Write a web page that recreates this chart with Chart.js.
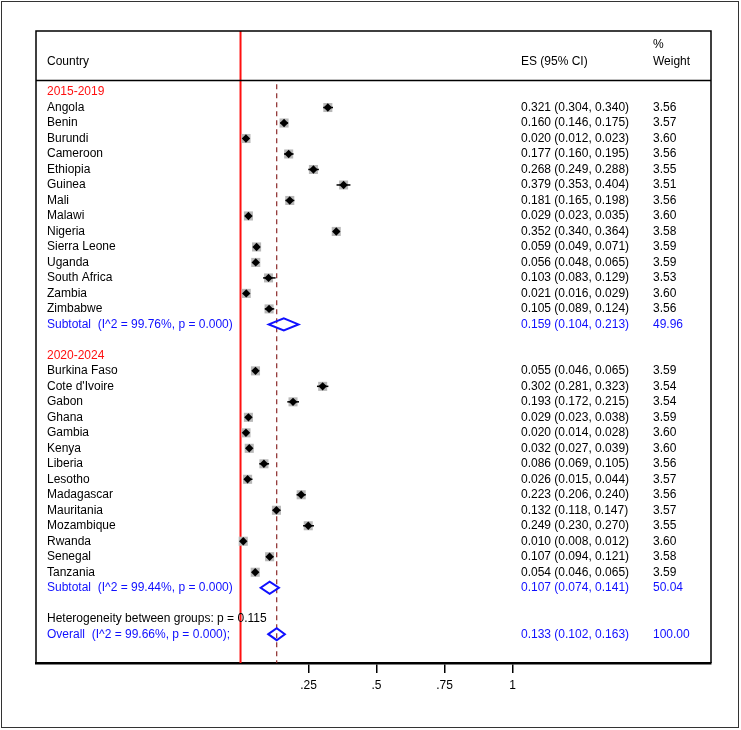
<!DOCTYPE html>
<html>
<head>
<meta charset="utf-8">
<script src="https://cdn.jsdelivr.net/npm/chart.js@4/dist/chart.umd.min.js"></script>
<style>
    html, body { margin: 0; padding: 0; background: #fff; }
    #fp { display: block; }
</style>
</head>
<body>
<canvas id="fp" width="741" height="730"></canvas>
<script>
// 2015-2019 group
const countries1 = ['Angola', 'Benin', 'Burundi', 'Cameroon', 'Ethiopia', 'Guinea', 'Mali', 'Malawi', 'Nigeria', 'Sierra Leone', 'Uganda', 'South Africa', 'Zambia', 'Zimbabwe'];
const es1 = [0.321, 0.160, 0.020, 0.177, 0.268, 0.379, 0.181, 0.029, 0.352, 0.059, 0.056, 0.103, 0.021, 0.105];
const lo1 = [0.304, 0.146, 0.012, 0.160, 0.249, 0.353, 0.165, 0.023, 0.340, 0.049, 0.048, 0.083, 0.016, 0.089];
const hi1 = [0.340, 0.175, 0.023, 0.195, 0.288, 0.404, 0.198, 0.035, 0.364, 0.071, 0.065, 0.129, 0.029, 0.124];
const w1 = [3.56, 3.57, 3.60, 3.56, 3.55, 3.51, 3.56, 3.60, 3.58, 3.59, 3.59, 3.53, 3.60, 3.56];

// 2020-2024 group
const countries2 = ['Burkina Faso', "Cote d'Ivoire", 'Gabon', 'Ghana', 'Gambia', 'Kenya', 'Liberia', 'Lesotho', 'Madagascar', 'Mauritania', 'Mozambique', 'Rwanda', 'Senegal', 'Tanzania'];
const es2 = [0.055, 0.302, 0.193, 0.029, 0.020, 0.032, 0.086, 0.026, 0.223, 0.132, 0.249, 0.010, 0.107, 0.054];
const lo2 = [0.046, 0.281, 0.172, 0.023, 0.014, 0.027, 0.069, 0.015, 0.206, 0.118, 0.230, 0.008, 0.094, 0.046];
const hi2 = [0.065, 0.323, 0.215, 0.038, 0.028, 0.039, 0.105, 0.044, 0.240, 0.147, 0.270, 0.012, 0.121, 0.065];
const w2 = [3.59, 3.54, 3.54, 3.59, 3.60, 3.60, 3.56, 3.57, 3.56, 3.57, 3.55, 3.60, 3.58, 3.59];

// pooled estimates: [es, lo, hi, weight, I^2, p]
const subtotal1 = [0.159, 0.104, 0.213, 49.96, '99.76%', '0.000'];
const subtotal2 = [0.107, 0.074, 0.141, 50.04, '99.44%', '0.000'];
const overall = [0.133, 0.102, 0.163, 100.00, '99.66%', '0.000'];
const hetP = '0.115';

const groupLabels = ['2015-2019', '2020-2024'];
const xTicks = [0.25, 0.5, 0.75, 1];

const BLUE = '#1010ff';
const RED = '#ff1010';
const FONT = '12px "Liberation Sans", Arial, sans-serif';

// row layout (row index = y value)
const rows = [];
let k = 0;
function addGroup(label, names, es, lo, hi, w, sub) {
    rows.push({ k: k++, kind: 'group', text: label });
    names.forEach((n, i) => rows.push({ k: k++, kind: 'study', text: n, es: es[i], lo: lo[i], hi: hi[i], w: w[i] }));
    rows.push({ k: k++, kind: 'pooled', text: `Subtotal  (I^2 = ${sub[4]}, p = ${sub[5]})`, es: sub[0], lo: sub[1], hi: sub[2], w: sub[3] });
    k++;
}
addGroup(groupLabels[0], countries1, es1, lo1, hi1, w1, subtotal1);
addGroup(groupLabels[1], countries2, es2, lo2, hi2, w2, subtotal2);
rows.push({ k: k++, kind: 'note', text: `Heterogeneity between groups: p = ${hetP}` });
rows.push({ k: k++, kind: 'pooled', text: `Overall  (I^2 = ${overall[4]}, p = ${overall[5]});`, es: overall[0], lo: overall[1], hi: overall[2], w: overall[3] });

const studies = rows.filter((r) => r.kind === 'study');
const pooled = rows.filter((r) => r.kind === 'pooled');
const fmt = (v) => v.toFixed(3);

const forestPlugin = {
    id: 'forest',
    beforeDatasetsDraw(chart) {
        const { ctx, chartArea: a, scales: { x, y } } = chart;
        ctx.save();
        // overall dashed line
        const xo = x.getPixelForValue(overall[0]);
        ctx.strokeStyle = '#8b2a2a';
        ctx.lineWidth = 1.2;
        ctx.setLineDash([5, 4]);
        ctx.beginPath();
        ctx.moveTo(xo, y.getPixelForValue(-0.5));
        ctx.lineTo(xo, a.bottom);
        ctx.stroke();
        ctx.setLineDash([]);
        // null line
        const x0 = x.getPixelForValue(0);
        ctx.strokeStyle = RED;
        ctx.lineWidth = 2;
        ctx.beginPath();
        ctx.moveTo(x0, a.top);
        ctx.lineTo(x0, a.bottom);
        ctx.stroke();
        ctx.restore();
    },
    afterDatasetDraw(chart, args) {
        if (args.index !== 0) return;
        const { ctx, scales: { x, y } } = chart;
        ctx.save();
        ctx.strokeStyle = '#000';
        ctx.lineWidth = 1.5;
        studies.forEach((r) => {
            const py = y.getPixelForValue(r.k);
            ctx.beginPath();
            ctx.moveTo(x.getPixelForValue(r.lo), py);
            ctx.lineTo(x.getPixelForValue(r.hi), py);
            ctx.stroke();
        });
        ctx.restore();
    },
    afterDraw(chart) {
        const { ctx, chartArea: a, scales: { x, y } } = chart;
        ctx.save();
        // pooled diamonds
        ctx.strokeStyle = BLUE;
        ctx.lineWidth = 2;
        pooled.forEach((r) => {
            const py = y.getPixelForValue(r.k);
            const h = 6;
            ctx.beginPath();
            ctx.moveTo(x.getPixelForValue(r.lo), py);
            ctx.lineTo(x.getPixelForValue(r.es), py - h);
            ctx.lineTo(x.getPixelForValue(r.hi), py);
            ctx.lineTo(x.getPixelForValue(r.es), py + h);
            ctx.closePath();
            ctx.stroke();
        });

        // frames
        ctx.strokeStyle = '#000';
        ctx.lineWidth = 1.5;
        ctx.beginPath();
        ctx.moveTo(a.left, a.bottom);
        ctx.lineTo(a.left, a.top);
        ctx.lineTo(a.right, a.top);
        ctx.lineTo(a.right, a.bottom);
        ctx.stroke();
        const ySep = Math.round(y.getPixelForValue(-0.775)) + 0.5;
        ctx.beginPath();
        ctx.moveTo(a.left, ySep);
        ctx.lineTo(a.right, ySep);
        ctx.stroke();
        ctx.strokeStyle = '#333';
        ctx.lineWidth = 1;
        ctx.strokeRect(1.5, 1.5, chart.width - 4, chart.height - 4);

        // text columns
        const cx = a.left + 11, ex = a.left + 485, wx = a.left + 617;
        ctx.font = FONT;
        ctx.textBaseline = 'middle';
        ctx.textAlign = 'left';
        ctx.fillStyle = '#000';
        const yh = y.getPixelForValue(-1.94);
        ctx.fillText('Country', cx, yh);
        ctx.fillText('ES (95% CI)', ex, yh);
        ctx.fillText('%', wx, y.getPixelForValue(-3.08));
        ctx.fillText('Weight', wx, yh);
        rows.forEach((r) => {
            const py = y.getPixelForValue(r.k);
            ctx.fillStyle = r.kind === 'group' ? RED : r.kind === 'pooled' ? BLUE : '#000';
            ctx.fillText(r.text, cx, py);
            if (r.es !== undefined) {
                ctx.fillText(`${fmt(r.es)} (${fmt(r.lo)}, ${fmt(r.hi)})`, ex, py);
                ctx.fillText(r.w.toFixed(2), wx, py);
            }
        });
        ctx.restore();
    },
};

new Chart(document.getElementById('fp'), {
    type: 'scatter',
    data: {
        datasets: [
            {
                label: 'weight',
                data: studies.map((r) => ({ x: r.es, y: r.k })),
                pointStyle: 'rect',
                pointRadius: studies.map((r) => 6.4 * Math.sqrt(r.w / 3.56)),
                backgroundColor: '#b8b8b8',
                borderWidth: 0,
                order: 2,
            },
            {
                label: 'es',
                data: studies.map((r) => ({ x: r.es, y: r.k })),
                pointStyle: 'rectRot',
                pointRadius: 4.2,
                backgroundColor: '#000',
                borderWidth: 0,
                order: 1,
            },
        ],
    },
    options: {
        responsive: false,
        animation: false,
        devicePixelRatio: 1,
        layout: { padding: { left: 36, right: 30, top: 31, bottom: 37 } },
        plugins: { legend: { display: false }, tooltip: { enabled: false } },
        scales: {
            x: {
                type: 'linear',
                min: -0.752,
                max: 1.7298,
                afterBuildTicks: (s) => { s.ticks = xTicks.map((v) => ({ value: v })); },
                afterFit: (s) => { s.height = 30; },
                border: { display: true, color: '#000', width: 2.5 },
                grid: { drawOnChartArea: false, drawTicks: true, tickLength: 10, color: '#000', lineWidth: 1.5 },
                ticks: {
                    padding: 5,
                    color: '#000',
                    font: { family: '"Liberation Sans", Arial, sans-serif', size: 12 },
                    callback: (v) => String(v).replace(/^0\./, '.'),
                },
            },
            y: {
                type: 'linear',
                display: false,
                reverse: true,
                min: -3.94,
                max: 36.86,
            },
        },
    },
    plugins: [forestPlugin],
});
</script>
</body>
</html>
